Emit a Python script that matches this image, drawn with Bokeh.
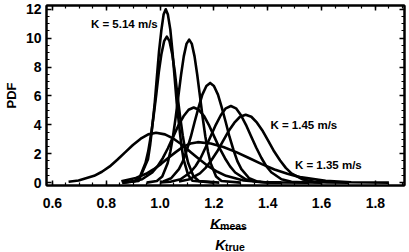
from bokeh.plotting import figure
from bokeh.layouts import column
from bokeh.models import (Range1d, LinearAxis, Label, Arrow, FixedTicker,
                          NumeralTickFormatter, CustomJSTickFormatter)
from bokeh.embed import file_html
from bokeh.resources import INLINE

# ---- data ----
x_ticks = [0.6, 0.8, 1.0, 1.2, 1.4, 1.6, 1.8]
x_minor = [0.6 + 0.05 * i for i in range(27)]
y_ticks = [0, 2, 4, 6, 8, 10, 12]
y_minor = [0.5 * i for i in range(25)]

c1_x = [0.86, 0.92, 0.955, 0.963, 0.971, 0.980, 0.988, 0.996, 1.005, 1.013, 1.021, 1.029, 1.038, 1.046, 1.054, 1.062, 1.071, 1.079, 1.087, 1.104, 1.12, 1.2]
c1_y = [0.0, 0.11, 1.62, 2.6, 3.9, 5.49, 7.28, 9.06, 10.59, 11.63, 12.0, 11.63, 10.59, 9.06, 7.28, 5.49, 3.9, 2.6, 1.62, 0.53, 0.13, 0.0]

c2_x = [0.86, 0.906, 0.926, 0.946, 0.956, 0.966, 0.976, 0.986, 0.995, 1.005, 1.015, 1.025, 1.035, 1.045, 1.055, 1.064, 1.074, 1.084, 1.094, 1.104, 1.124, 1.144, 1.22]
c2_y = [0.0, 0.11, 0.44, 1.37, 2.18, 3.28, 4.62, 6.13, 7.62, 8.91, 9.79, 10.1, 9.79, 8.91, 7.62, 6.13, 4.62, 3.28, 2.18, 1.37, 0.44, 0.11, 0.0]

c3_x = [0.95, 0.988, 1.008, 1.028, 1.038, 1.048, 1.058, 1.068, 1.078, 1.088, 1.098, 1.108, 1.118, 1.128, 1.138, 1.148, 1.158, 1.168, 1.178, 1.188, 1.208, 1.228, 1.3]
c3_y = [0.0, 0.11, 0.43, 1.34, 2.14, 3.21, 4.53, 6.0, 7.47, 8.74, 9.6, 9.9, 9.6, 8.74, 7.47, 6.0, 4.53, 3.21, 2.14, 1.34, 0.43, 0.11, 0.0]

c4_x = [1.0, 1.012, 1.041, 1.07, 1.085, 1.099, 1.114, 1.128, 1.143, 1.157, 1.172, 1.186, 1.2, 1.215, 1.229, 1.244, 1.258, 1.273, 1.287, 1.302, 1.331, 1.36, 1.4, 1.45]
c4_y = [0.04, 0.08, 0.30, 0.93, 1.49, 2.24, 3.16, 4.18, 5.21, 6.09, 6.69, 6.9, 6.69, 6.09, 5.21, 4.18, 3.16, 2.24, 1.49, 0.93, 0.30, 0.08, 0.01, 0.0]

c5_x = [0.86, 0.894, 0.933, 0.971, 0.99, 1.01, 1.029, 1.048, 1.067, 1.087, 1.106, 1.125, 1.144, 1.164, 1.183, 1.202, 1.221, 1.241, 1.26, 1.279, 1.318, 1.356, 1.4, 1.45]
c5_y = [0.01, 0.06, 0.23, 0.70, 1.12, 1.69, 2.38, 3.15, 3.92, 4.59, 5.04, 5.2, 5.04, 4.59, 3.92, 3.15, 2.38, 1.69, 1.12, 0.70, 0.23, 0.06, 0.01, 0.0]

c6_x = [1.0, 1.038, 1.076, 1.113, 1.132, 1.151, 1.169, 1.188, 1.207, 1.226, 1.244, 1.263, 1.282, 1.3, 1.319, 1.338, 1.357, 1.376, 1.394, 1.413, 1.451, 1.488, 1.55, 1.6]
c6_y = [0.01, 0.06, 0.23, 0.72, 1.15, 1.72, 2.43, 3.21, 4.0, 4.68, 5.14, 5.3, 5.14, 4.68, 4.0, 3.21, 2.43, 1.72, 1.15, 0.72, 0.23, 0.06, 0.01, 0.0]

c7_x = [1.07, 1.106, 1.148, 1.169, 1.19, 1.212, 1.233, 1.254, 1.276, 1.297, 1.318, 1.339, 1.36, 1.382, 1.403, 1.424, 1.446, 1.467, 1.488, 1.531, 1.573, 1.62, 1.7]
c7_y = [0.07, 0.21, 0.64, 1.02, 1.53, 2.15, 2.85, 3.55, 4.15, 4.56, 4.7, 4.56, 4.15, 3.55, 2.85, 2.15, 1.53, 1.02, 0.64, 0.21, 0.05, 0.01, 0.0]

c8_x = [0.66, 0.697, 0.755, 0.784, 0.813, 0.841, 0.87, 0.899, 0.928, 0.956, 0.985, 1.018, 1.05, 1.083, 1.115, 1.148, 1.18, 1.213, 1.245, 1.31, 1.375, 1.45, 1.55]
c8_y = [0.06, 0.15, 0.47, 0.75, 1.12, 1.58, 2.09, 2.6, 3.04, 3.34, 3.45, 3.34, 3.04, 2.6, 2.09, 1.58, 1.12, 0.75, 0.47, 0.15, 0.04, 0.01, 0.0]

c9_x = [0.856, 0.91, 0.948, 0.975, 1.003, 1.03, 1.058, 1.085, 1.113, 1.14, 1.188, 1.235, 1.283, 1.33, 1.378, 1.425, 1.473, 1.52, 1.615, 1.71, 1.85]
c9_y = [0.10, 0.32, 0.61, 0.91, 1.28, 1.70, 2.11, 2.47, 2.71, 2.8, 2.71, 2.47, 2.11, 1.70, 1.28, 0.91, 0.61, 0.38, 0.12, 0.03, 0.0]

curves = [(c1_x, c1_y), (c2_x, c2_y), (c3_x, c3_y), (c4_x, c4_y), (c5_x, c5_y),
          (c6_x, c6_y), (c7_x, c7_y), (c8_x, c8_y), (c9_x, c9_y)]

annotations = [("K = 5.14 m/s", 0.743, 10.96), ("K = 1.45 m/s", 1.41, 3.97), ("K = 1.35 m/s", 1.501, 1.23)]

FONT = "Liberation Sans"
W = 409

p = figure(width=W, height=213, x_range=Range1d(0.578, 1.908), y_range=Range1d(-0.2, 12.26),
           output_backend="svg", toolbar_location=None,
           min_border_left=41, min_border_right=5, min_border_top=5, min_border_bottom=28)
p.grid.visible = False
p.outline_line_color = "black"
p.outline_line_width = 2
p.background_fill_color = "white"
p.border_fill_color = "white"

for xs, ys in curves:
    p.line(xs, ys, line_color="black", line_width=2.6, line_join="round")

def style_axis(ax, labels=True):
    ax.axis_line_color = "black"
    ax.axis_line_width = 2
    ax.major_tick_in = 5
    ax.major_tick_out = 0
    ax.minor_tick_in = 3
    ax.minor_tick_out = 0
    ax.major_tick_line_width = 1.5
    ax.minor_tick_line_width = 1.2
    ax.major_label_text_font = FONT
    ax.major_label_text_font_style = "bold"
    ax.major_label_text_color = "black"
    ax.major_label_text_font_size = "14px"
    if not labels:
        ax.formatter = CustomJSTickFormatter(code="return ''")
        ax.major_label_standoff = 0

p.xaxis.ticker = FixedTicker(ticks=x_ticks, minor_ticks=x_minor)
p.yaxis.ticker = FixedTicker(ticks=y_ticks, minor_ticks=y_minor)
p.xaxis.formatter = NumeralTickFormatter(format="0.0")
style_axis(p.xaxis[0])
style_axis(p.yaxis[0])
p.xaxis.major_label_standoff = 12
p.yaxis.major_label_standoff = 5
p.yaxis.axis_label = "PDF"
p.yaxis.axis_label_text_font = FONT
p.yaxis.axis_label_text_font_style = "bold"
p.yaxis.axis_label_text_font_size = "13px"
p.yaxis.axis_label_text_color = "black"
p.yaxis.axis_label_standoff = 4

top = LinearAxis(ticker=FixedTicker(ticks=x_ticks, minor_ticks=x_minor))
right = LinearAxis(ticker=FixedTicker(ticks=y_ticks, minor_ticks=y_minor))
style_axis(top, labels=False)
style_axis(right, labels=False)
p.add_layout(top, "above")
p.add_layout(right, "right")

for txt, lx, ly in annotations:
    p.add_layout(Label(x=lx, y=ly, text=txt, text_font=FONT, text_font_style="bold",
                       text_font_size="11.5px", text_baseline="middle", text_align="left",
                       text_color="black"))

# x axis title (K_meas / K_true) drawn in a strip below the plot
q = figure(width=W, height=39, x_range=p.x_range, y_range=Range1d(39, 0),
           x_axis_type=None, y_axis_type=None,
           output_backend="svg", toolbar_location=None,
           min_border_left=41, min_border_right=5, min_border_top=0, min_border_bottom=0)
q.title.visible = False
q.grid.visible = False
q.outline_line_color = None
q.border_fill_color = "white"

q.add_layout(Label(x=1.1863, y=10, text="K", text_font=FONT, text_font_style="bold italic",
                   text_font_size="14px", text_baseline="alphabetic", text_color="black"))
q.add_layout(Label(x=1.2229, y=12.5, text="meas", text_font=FONT, text_font_style="bold",
                   text_font_size="10.5px", text_baseline="alphabetic", text_color="black"))
q.add_layout(Arrow(end=None, x_start=1.1863, y_start=15, x_end=1.3182, y_end=15,
                   line_color="black", line_width=1.2))
q.add_layout(Label(x=1.2046, y=31, text="K", text_font=FONT, text_font_style="bold italic",
                   text_font_size="14px", text_baseline="alphabetic", text_color="black"))
q.add_layout(Label(x=1.2412, y=33, text="true", text_font=FONT, text_font_style="bold",
                   text_font_size="10.5px", text_baseline="alphabetic", text_color="black"))

layout = column(p, q, spacing=0)
open("out.html", "w").write(file_html(layout, INLINE))
